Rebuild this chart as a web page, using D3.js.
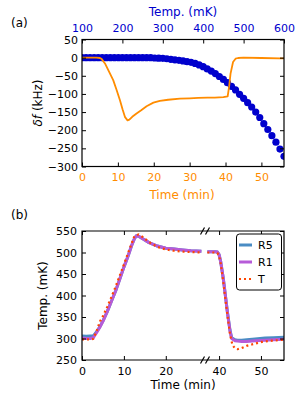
<!DOCTYPE html>
<html>
<head>
<meta charset="utf-8">
<script src="https://cdn.jsdelivr.net/npm/d3@7"></script>
<style>
  body { margin: 0; background: #fff; }
  svg { font-family: "DejaVu Sans", sans-serif; display: block; }
</style>
</head>
<body>
<div id="chart"></div>
<script>
// ---- panel (a): frequency shift vs temperature (dots) and vs time (line)
const dotTemp = [100, 110, 120, 130, 140, 150, 160, 170, 180, 190, 200, 210, 220, 230, 240, 250, 260, 270,
                 280, 290, 300, 310, 320, 330, 340, 350, 360, 370, 380, 390, 400, 410, 420, 430, 440, 450,
                 460, 470, 480, 490, 500, 510, 520, 530, 540, 550, 560, 570, 580, 590, 600];
const dotShift = [0, 0, 0, 0, 0, 0, 0, 0, 0, 0, 0, 0, 0, 0, 0, 0, 0, 0,
                  -1, -1.5, -2, -3, -4.5, -6, -7.5, -9, -11, -13, -16, -20, -25, -31, -37, -44, -52, -60,
                  -69, -79, -89, -101, -112, -124, -136, -150, -165, -182, -198, -215, -233, -252, -272];

const lineTime = [0, 2, 4, 5, 5.5, 6.4, 7.5, 8.7, 9.6, 10.6, 11.3, 12, 12.7, 13.2, 14, 15.2, 16.5, 18,
                  19.9, 21.7, 24, 27.3, 30, 32.4, 35, 37, 39.4, 40.6, 41, 41.4, 42.1, 42.8, 43.5, 45, 50, 55, 56.3];
const lineShift = [0, 0, 0, -1, -4, -16, -38, -62, -88, -118, -142, -164, -173, -171, -163, -154, -145, -134,
                   -124, -119, -116, -113, -112, -111, -110, -110, -109, -107, -80, -44, -12, -3, -1, 0, -1, -2, -2];

const shiftTicks = [-300, -250, -200, -150, -100, -50, 0, 50];
const timeTicksA = [0, 10, 20, 30, 40, 50];
const tempTicksA = [100, 200, 300, 400, 500, 600];

// ---- panel (b): temperature vs time, broken time axis
const bTime = [0, 1, 2, 2.7, 3.5, 4.3, 5, 6, 7, 8, 9, 10, 11, 11.8, 12.5, 13, 13.5, 14.5, 16, 18, 20, 22, 24, 26, 28.5,
               37.2, 38, 39, 39.6, 40, 40.4, 41, 41.5, 42, 42.6, 43, 43.8, 44.4, 45.4, 46.6, 48.6, 51, 53, 55.5];
const r1 = [301, 300, 300, 302, 314, 327, 340, 362, 386, 410, 438, 466, 492, 515, 532, 539, 538, 532, 523, 515, 510, 508, 506, 504, 503,
            502, 502, 502, 501, 495, 478, 440, 401, 360, 318, 300, 295, 294, 293, 293, 295, 296, 297, 298];
const r5 = [306, 305, 306, 306, 316, 328, 341, 362, 386, 410, 438, 466, 492, 515, 532, 539, 538, 532, 523, 515, 510, 508, 506, 504, 503,
            502, 502, 502, 501, 495, 478, 440, 401, 361, 320, 302, 297, 296, 296, 297, 299, 301, 302, 303];
const tTime = [0, 1, 2, 2.7, 3.5, 4.3, 5, 6, 7, 8, 9, 10, 11, 12, 12.5, 13.5, 14.5, 16, 18, 20, 22, 24, 26, 28.5,
               37.2, 38, 39, 39.6, 40, 40.4, 41, 41.5, 42, 42.6, 43.2, 43.8, 44.4, 45.4, 46.6, 47.8, 50.2, 52.6, 55.5];
const tTemp = [298, 298, 298, 299, 318, 340, 352, 373, 396, 420, 446, 472, 499, 525, 538, 542, 536, 524, 513, 507, 504, 502, 501, 500,
               500, 500, 500, 499, 492, 474, 432, 392, 355, 310, 285, 277, 275, 278, 283, 286, 292, 295, 297];

const tempTicksB = [250, 300, 350, 400, 450, 500, 550];
const leftTicksB = [0, 10, 20];
const rightTicksB = [40, 50];

const legendNames = ["R5", "R1", "T"];

const width = 300, height = 400;
const orange = "#ff8c00", blue = "#0000cd";

const svg = d3.select("#chart").append("svg")
    .attr("width", width)
    .attr("height", height);

// inward ticks, no domain line
function style(g, color) {
    g.select(".domain").remove();
    g.selectAll(".tick line").attr("stroke", "#000");
    g.selectAll(".tick text").attr("fill", color || "#000").style("font-size", "11px")
        .style("font-family", "DejaVu Sans");
}

// ================= panel (a)
const A = { left: 82, right: 284, top: 39.5, bottom: 166.5 };

const xTime = d3.scaleLinear().domain([0, 56.3]).range([A.left, A.right]);
const xTemp = d3.scaleLinear().domain([100, 600]).range([A.left, A.right]);
const yShift = d3.scaleLinear().domain([-300, 50]).range([A.bottom, A.top]);

svg.append("clipPath").attr("id", "clipA")
    .append("rect")
    .attr("x", A.left).attr("y", A.top)
    .attr("width", A.right - A.left).attr("height", A.bottom - A.top);

const plotA = svg.append("g").attr("clip-path", "url(#clipA)");

plotA.selectAll("circle")
    .data(dotTemp.map((t, i) => ({ t: t, v: dotShift[i] })))
    .enter()
    .append("circle")
    .attr("cx", d => xTemp(d.t))
    .attr("cy", d => yShift(d.v))
    .attr("r", 3.6)
    .attr("fill", blue);

plotA.append("path")
    .datum(lineTime.map((t, i) => ({ t: t, v: lineShift[i] })))
    .attr("fill", "none")
    .attr("stroke", orange)
    .attr("stroke-width", 1.8)
    .attr("stroke-linejoin", "round")
    .attr("d", d3.line().x(d => xTime(d.t)).y(d => yShift(d.v)));

svg.append("g")
    .attr("transform", `translate(0,${A.bottom})`)
    .call(d3.axisBottom(xTime).tickValues(timeTicksA).tickSize(-4).tickPadding(7).tickFormat(d3.format("d")))
    .call(g => style(g, orange));

svg.append("g")
    .attr("transform", `translate(0,${A.top})`)
    .call(d3.axisTop(xTemp).tickValues(tempTicksA).tickSize(-4).tickPadding(8).tickFormat(d3.format("d")))
    .call(g => style(g, blue));

svg.append("g")
    .attr("transform", `translate(${A.left},0)`)
    .call(d3.axisLeft(yShift).tickValues(shiftTicks).tickSize(-4).tickPadding(4))
    .call(g => style(g));

svg.append("g")
    .attr("transform", `translate(${A.right},0)`)
    .call(d3.axisRight(yShift).tickValues(shiftTicks).tickSize(-4).tickFormat(""))
    .call(g => style(g));

svg.append("rect")
    .attr("x", A.left).attr("y", A.top)
    .attr("width", A.right - A.left).attr("height", A.bottom - A.top)
    .attr("fill", "none").attr("stroke", "#000").attr("stroke-width", 1.2);

// labels (a)
svg.append("text")
    .attr("x", 183).attr("y", 16)
    .attr("text-anchor", "middle")
    .attr("fill", blue)
    .style("font-size", "12px")
    .text("Temp. (mK)");

svg.append("text")
    .attr("x", 182).attr("y", 199)
    .attr("text-anchor", "middle")
    .attr("fill", orange)
    .style("font-size", "12px")
    .text("Time (min)");

const yLabA = svg.append("text")
    .attr("transform", `translate(42,${(A.top + A.bottom) / 2}) rotate(-90)`)
    .attr("text-anchor", "middle")
    .style("font-size", "12px");
yLabA.append("tspan").style("font-style", "italic").text("δf");
yLabA.append("tspan").text(" (kHz)");

svg.append("text")
    .attr("x", 11).attr("y", 27)
    .style("font-size", "12px")
    .text("(a)");

// ================= panel (b)
const B = { left: 82, right: 284, top: 231, bottom: 360, breakL: 203.5, breakR: 206.5 };

const xLeft = d3.scaleLinear().domain([0, 29]).range([B.left, B.breakL]);
const xRight = d3.scaleLinear().domain([37, 55.5]).range([B.breakR, B.right]);
const yTemp = d3.scaleLinear().domain([250, 550]).range([B.bottom, B.top]);

svg.append("clipPath").attr("id", "clipBL")
    .append("rect")
    .attr("x", B.left).attr("y", B.top)
    .attr("width", B.breakL - B.left).attr("height", B.bottom - B.top);
svg.append("clipPath").attr("id", "clipBR")
    .append("rect")
    .attr("x", B.breakR).attr("y", B.top)
    .attr("width", B.right - B.breakR).attr("height", B.bottom - B.top);

const series = [
    { name: "R5", time: bTime, temp: r5, color: "#4a8cc4", width: 3, dash: null },
    { name: "R1", time: bTime, temp: r1, color: "#b65bd8", width: 3, dash: null },
    { name: "T", time: tTime, temp: tTemp, color: "#ff4500", width: 2.2, dash: "2,3" }
];

[{ x: xLeft, clip: "clipBL", keep: t => t <= 29 },
 { x: xRight, clip: "clipBR", keep: t => t >= 37 }].forEach(seg => {
    const g = svg.append("g").attr("clip-path", `url(#${seg.clip})`);
    series.forEach(s => {
        const pts = s.time.map((t, i) => ({ t: t, v: s.temp[i] })).filter(d => seg.keep(d.t));
        g.append("path")
            .datum(pts)
            .attr("fill", "none")
            .attr("stroke", s.color)
            .attr("stroke-width", s.width)
            .attr("stroke-dasharray", s.dash)
            .attr("stroke-linejoin", "round")
            .attr("d", d3.line().x(d => seg.x(d.t)).y(d => yTemp(d.v)));
    });
});

// axes (b)
svg.append("g")
    .attr("transform", `translate(0,${B.bottom})`)
    .call(d3.axisBottom(xLeft).tickValues(leftTicksB).tickSize(-4).tickPadding(7))
    .call(g => style(g));
svg.append("g")
    .attr("transform", `translate(0,${B.bottom})`)
    .call(d3.axisBottom(xRight).tickValues(rightTicksB).tickSize(-4).tickPadding(7))
    .call(g => style(g));
svg.append("g")
    .attr("transform", `translate(0,${B.top})`)
    .call(d3.axisTop(xLeft).tickValues(leftTicksB).tickSize(-4).tickFormat(""))
    .call(g => style(g));
svg.append("g")
    .attr("transform", `translate(0,${B.top})`)
    .call(d3.axisTop(xRight).tickValues(rightTicksB).tickSize(-4).tickFormat(""))
    .call(g => style(g));
svg.append("g")
    .attr("transform", `translate(${B.left},0)`)
    .call(d3.axisLeft(yTemp).tickValues(tempTicksB).tickSize(-4).tickPadding(5))
    .call(g => style(g));
svg.append("g")
    .attr("transform", `translate(${B.right},0)`)
    .call(d3.axisRight(yTemp).tickValues(tempTicksB).tickSize(-4).tickFormat(""))
    .call(g => style(g));

// frame (b) with break marks
const frame = svg.append("g").attr("stroke", "#000").attr("stroke-width", 1.2).attr("fill", "none");
frame.append("path")
    .attr("d", `M${B.left},${B.top}H${B.right}V${B.bottom}H${B.left}Z`);
[B.breakL - 1, B.breakR + 1].forEach(bx => {
    [B.top, B.bottom].forEach(by => {
        frame.append("line")
            .attr("x1", bx - 2).attr("y1", by + 3.5)
            .attr("x2", bx + 2).attr("y2", by - 3.5);
    });
});

// legend
const leg = svg.append("g");
leg.append("rect")
    .attr("x", 236.5).attr("y", 234)
    .attr("width", 45).attr("height", 56)
    .attr("rx", 3)
    .attr("fill", "#fff").attr("stroke", "#000").attr("stroke-width", 1);
legendNames.forEach((name, i) => {
    const s = series.find(d => d.name === name);
    const ly = 245 + i * 17;
    leg.append("line")
        .attr("x1", 239).attr("x2", 252)
        .attr("y1", ly).attr("y2", ly)
        .attr("stroke", s.color)
        .attr("stroke-width", s.width)
        .attr("stroke-dasharray", s.dash);
    leg.append("text")
        .attr("x", 258).attr("y", ly + 4)
        .style("font-size", "11px")
        .text(name);
});

// labels (b)
svg.append("text")
    .attr("x", 183).attr("y", 389)
    .attr("text-anchor", "middle")
    .style("font-size", "12px")
    .text("Time (min)");

svg.append("text")
    .attr("transform", `translate(47,${(B.top + B.bottom) / 2}) rotate(-90)`)
    .attr("text-anchor", "middle")
    .style("font-size", "12px")
    .text("Temp. (mK)");

svg.append("text")
    .attr("x", 11).attr("y", 219)
    .style("font-size", "12px")
    .text("(b)");
</script>
</body>
</html>
